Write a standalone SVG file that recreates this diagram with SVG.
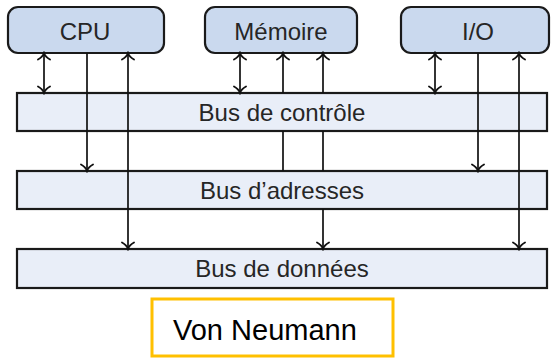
<svg xmlns="http://www.w3.org/2000/svg" width="552" height="358" viewBox="0 0 552 358">
<style>
.unit{fill:#cad9ee;stroke:#1a1a1a;stroke-width:2.2}
.bus{fill:#e9eef8;stroke:#1a1a1a;stroke-width:2.2}
.lbl{font-family:"Liberation Sans",Arial,sans-serif;font-size:24px;fill:#262626;text-anchor:middle}
.wire{fill:none;stroke:#111;stroke-width:1.7}
.bi{marker-start:url(#ah);marker-end:url(#ah)}
.one{marker-end:url(#ah)}
</style>
<defs>
<marker id="ah" viewBox="-9 -8 11 16" refX="0" refY="0" markerWidth="11" markerHeight="16" markerUnits="userSpaceOnUse" orient="auto-start-reverse">
<path d="M-6.5,-6 C-4.5,-2.2 -1.8,-0.6 0,0 C-1.8,0.6 -4.5,2.2 -6.5,6" fill="none" stroke="#111" stroke-width="1.8" stroke-linecap="round"/>
</marker>
</defs>
<g id="cpu"><rect class="unit" x="8" y="7" width="156" height="46" rx="10"/><text class="lbl" x="85" y="40">CPU</text></g>
<g id="memoire"><rect class="unit" x="205" y="7" width="152" height="46" rx="10"/><text class="lbl" x="281" y="40">Mémoire</text></g>
<g id="io"><rect class="unit" x="401" y="7" width="148" height="46" rx="10"/><text class="lbl" x="478" y="40">I/O</text></g>
<g id="bus-controle"><rect class="bus" x="17" y="93" width="530" height="38"/><text class="lbl" x="282" y="121">Bus de contrôle</text></g>
<g id="bus-adresses"><rect class="bus" x="17" y="171" width="530" height="38"/><text class="lbl" x="282" y="199">Bus d’adresses</text></g>
<g id="bus-donnees"><rect class="bus" x="17" y="249" width="530" height="39"/><text class="lbl" x="282" y="277">Bus de données</text></g>
<g id="connectors">
<path class="wire bi" d="M44,53 L44,93"/>
<path class="wire one" d="M87,53 L87,171"/>
<path class="wire bi" d="M128,249 L128,53"/>
<path class="wire bi" d="M240,53 L240,93"/>
<path class="wire one" d="M283,171 L283,131 M283,93 L283,53"/>
<path class="wire bi" d="M323,249 L323,209 M323,171 L323,131 M323,93 L323,53"/>
<path class="wire bi" d="M435,53 L435,93"/>
<path class="wire one" d="M478,53 L478,171"/>
<path class="wire bi" d="M519,249 L519,53"/>
</g>
<g id="titre"><rect x="152" y="299" width="241" height="57" fill="#fff" stroke="#ffc000" stroke-width="3"/><text x="173" y="340" font-family="'Liberation Sans',Arial,sans-serif" font-size="29" fill="#000">Von Neumann</text></g>
</svg>
